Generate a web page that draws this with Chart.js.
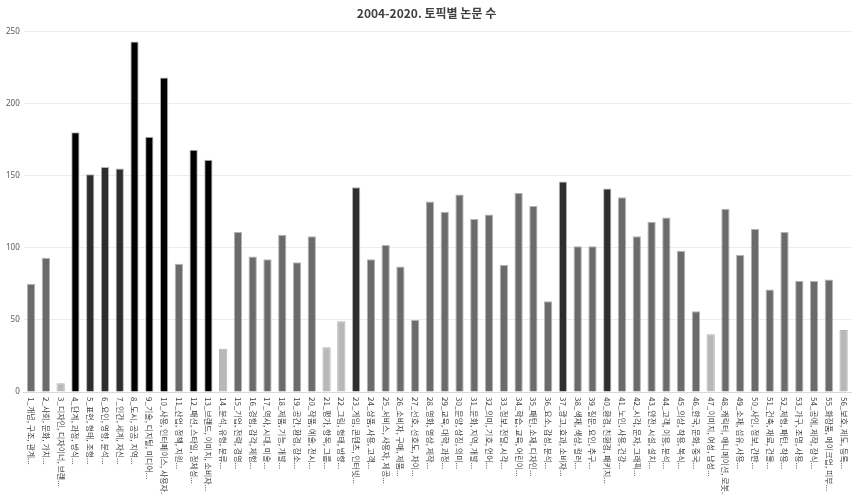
<!DOCTYPE html>
<html>
<head>
<meta charset="utf-8">
<script src="https://cdn.jsdelivr.net/npm/chart.js@4"></script>
<style>
  html, body { margin: 0; padding: 0; background: #fff; }
  #wrap { width: 856px; height: 495px; }
</style>
</head>
<body>
<div id="wrap"><canvas id="myChart" width="856" height="495"></canvas></div>
<script>
// 토픽 이름 (x축)
const topics = [
  '1_개념, 구조, 관계...', '2_사회, 문화, 가치...', '3_디자인, 디자이너, 브랜...', '4_단계, 과정, 방식...',
  '5_표현, 형태, 조형...', '6_요인, 영향, 분석...', '7_인간, 세계, 자신...', '8_도시, 공공, 지역...',
  '9_기술, 디지털, 미디어...', '10_사용, 인터페이스, 사용자...', '11_산업, 정책, 지원...', '12_패션, 스타일, 정체성...',
  '13_브랜드, 이미지, 소비자...', '14_분석, 유형, 분류...', '15_기업, 전략, 경영...', '16_경험, 감각, 체험...',
  '17_역사, 시대, 미술...', '18_제품, 기능, 개발...', '19_공간, 환경, 장소...', '20_작품, 예술, 전시...',
  '21_평가, 항목, 그룹...', '22_그림, 형태, 방향...', '23_게임, 콘텐츠, 인터넷...', '24_상품, 사용, 고객...',
  '25_서비스, 사용자, 제공...', '26_소비자, 구매, 제품...', '27_선호, 선호도, 차이...', '28_영화, 영상, 제작...',
  '29_교육, 대학, 과정...', '30_문양, 상징, 의미...', '31_문화, 지역, 개발...', '32_의미, 기호, 언어...',
  '33_정보, 전달, 시각...', '34_학습, 교육, 어린이...', '35_패턴, 소재, 디자인...', '36_요소, 감성, 분석...',
  '37_광고, 효과, 소비자...', '38_색채, 색상, 컬러...', '39_질문, 요인, 추구...', '40_환경, 친환경, 패키지...',
  '41_노인, 사용, 건강...', '42_시각, 문자, 그래픽...', '43_안전, 시설, 설치...', '44_고객, 이용, 분석...',
  '45_의상, 착용, 복식...', '46_한국, 문화, 중국...', '47_이미지, 여성, 남성...', '48_캐릭터, 애니메이션, 로봇...',
  '49_소재, 섬유, 사용...', '50_사인, 정보, 간판...', '51_건축, 재료, 건물...', '52_체형, 패턴, 착용...',
  '53_가구, 조명, 사용...', '54_공예, 제작, 장식...', '55_화장품, 메이크업, 피부...', '56_보호, 제도, 등록...'
];

// 토픽별 논문 수
const counts = [
  75, 93, 6, 180, 151, 156, 155, 243, 177, 218, 89, 168, 161, 30,
  111, 94, 92, 109, 90, 108, 31, 49, 142, 92, 102, 87, 50, 132,
  125, 137, 120, 123, 88, 138, 129, 63, 146, 101, 101, 141, 135, 108,
  118, 121, 98, 56, 40, 127, 95, 113, 71, 111, 77, 77, 78, 43
];

// y축 눈금
const yTicks = [0, 50, 100, 150, 200, 250];

// 값에 따라 막대 색 정하기
function barColor(v) {
  if (v >= 160) return '#000000';
  if (v >= 140) return '#2e2e2e';
  if (v >= 50) return '#6b6b6b';
  return '#b8b8b8';
}

// x축 글자를 위에서 아래로 (90도) 그리는 플러그인
const downLabels = {
  id: 'downLabels',
  afterDraw(chart) {
    const c = chart.ctx;
    const xs = chart.scales.x;
    const top = chart.chartArea.bottom + 5;
    c.save();
    c.font = '8px "Noto Sans CJK KR", "Noto Sans", sans-serif';
    c.fillStyle = '#404040';
    c.textAlign = 'left';
    c.textBaseline = 'middle';
    for (let i = 0; i < topics.length; i++) {
      const x = xs.getPixelForTick(i);
      c.save();
      c.translate(x, top);
      c.rotate(Math.PI / 2);
      c.fillText(topics[i], 0, 0);
      c.restore();
    }
    c.restore();
  }
};

const ctx = document.getElementById('myChart');

const config = {
  type: 'bar',
  data: {
    labels: topics,
    datasets: [{
      label: '논문 수',
      data: counts,
      backgroundColor: counts.map(barColor),
      borderColor: 'rgba(160,160,160,0.8)',
      borderWidth: 1,
      barPercentage: 0.56,
      categoryPercentage: 1.0
    }]
  },
  options: {
    responsive: false,
    animation: false,
    layout: { padding: { left: 2, right: 5, top: 2, bottom: 95 } },
    plugins: {
      legend: { display: false },
      tooltip: { enabled: false },
      title: {
        display: true,
        text: '2004-2020. 토픽별 논문 수',
        color: '#404040',
        font: { family: '"Noto Sans CJK KR", sans-serif', size: 12, weight: 'bold' },
        padding: { top: 4, bottom: 11 }
      }
    },
    scales: {
      x: {
        ticks: { display: false },
        grid: { display: false },
        border: { display: true, color: '#d9d9d9', width: 1 }
      },
      y: {
        min: 0,
        max: 250,
        afterBuildTicks(axis) { axis.ticks = yTicks.map(v => ({ value: v })); },
        ticks: {
          color: '#595959',
          font: { family: '"Noto Sans", sans-serif', size: 8 },
          padding: 4
        },
        grid: { color: '#ececec', drawTicks: false },
        border: { display: false }
      }
    }
  },
  plugins: [downLabels]
};

const myChart = new Chart(ctx, config);
</script>
</body>
</html>
